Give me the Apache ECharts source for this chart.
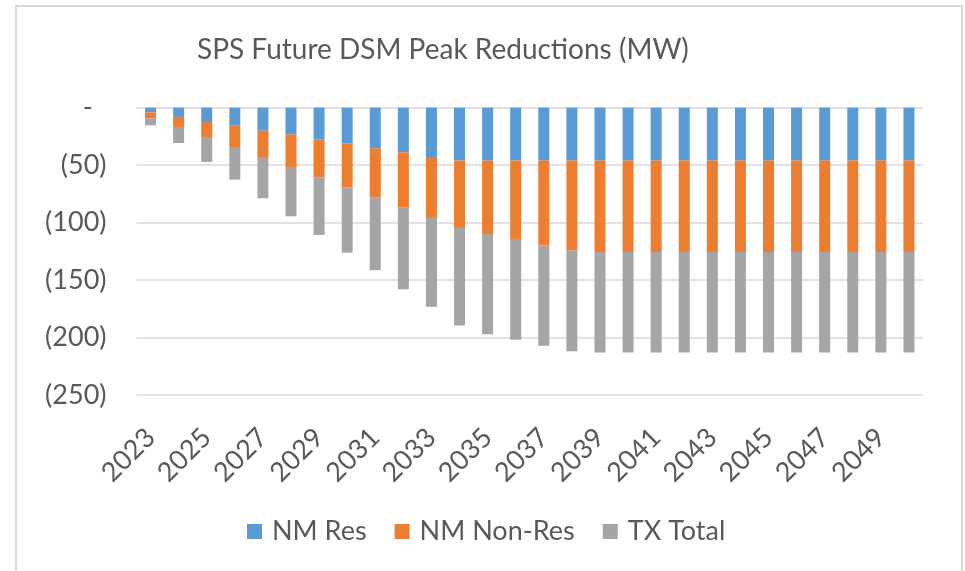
<!DOCTYPE html>
<html>
<head>
<meta charset="utf-8">
<script src="https://cdn.jsdelivr.net/npm/echarts@6/dist/echarts.min.js"></script>
<style>
html,body{margin:0;padding:0;background:#fff;}
#chart{width:965px;height:571px;}
</style>
</head>
<body>
<div id="chart"></div>
<script>
const years = ['2023','2024','2025','2026','2027','2028','2029','2030','2031','2032','2033','2034','2035','2036','2037','2038','2039','2040','2041','2042','2043','2044','2045','2046','2047','2048','2049','2050'];
const nmRes = [-4,-8,-12.5,-15.7,-20,-23.2,-27.5,-31,-35.4,-38.8,-42.9,-46,-46,-46,-46,-46,-46,-46,-46,-46,-46,-46,-46,-46,-46,-46,-46,-46];
const nmNonRes = [-5.3,-8.8,-13,-18.5,-22.9,-28.4,-33.1,-38.3,-42.9,-48.2,-53,-58.6,-63.9,-68.2,-74,-78.3,-79.5,-79.5,-79.5,-79.5,-79.5,-79.5,-79.5,-79.5,-79.5,-79.5,-79.5,-79.5];
const txTotal = [-6.1,-13.9,-21.7,-28.4,-35.9,-42.9,-50.1,-56.8,-63.1,-71,-77.4,-85,-87.2,-87.8,-87.2,-87.6,-87.5,-87.5,-87.5,-87.5,-87.5,-87.5,-87.5,-87.5,-87.5,-87.5,-87.5,-87.5];
const seriesNames = ['NM Res','NM Non-Res','TX Total'];
const colors = ['#5B9BD5','#ED7D31','#A5A5A5'];

const FONT = 'Lato';
const TXT = '#595959';
const chart = echarts.init(document.getElementById('chart'));
const mk = (name, data, color) => ({
  name, type:'bar', stack:'total', data, barWidth:11,
  itemStyle:{color}, emphasis:{disabled:true}
});
chart.setOption({
  animation:false,
  color:colors,
  title:{
    text:'SPS Future DSM Peak Reductions (MW)',
    left:192, top:31,
    textStyle:{fontFamily:FONT, fontSize:28, fontWeight:'normal', color:TXT}
  },
  graphic:[{
    type:'rect', shape:{x:16,y:6,width:946,height:580},
    style:{fill:null, stroke:'#d9d9d9', lineWidth:2}, silent:true, z:-1
  }],
  legend:{
    data:seriesNames, bottom:21, left:242,
    itemWidth:15, itemHeight:15, itemGap:28,
    icon:'rect',
    textStyle:{fontFamily:FONT, fontSize:27, color:TXT, padding:[0,0,0,5]}
  },
  grid:{left:136.5, right:42, top:107.7, bottom:176, containLabel:false},
  xAxis:{
    type:'category', data:years,
    axisLine:{show:false}, axisTick:{show:false},
    axisLabel:{interval:1, rotate:45, margin:38, fontFamily:FONT, fontSize:27, color:TXT}
  },
  yAxis:{
    type:'value', min:-250, max:0, interval:50,
    axisLine:{show:false}, axisTick:{show:false},
    splitLine:{lineStyle:{color:'#d9d9d9', width:1.5}},
    axisLabel:{margin:30, fontFamily:FONT, fontSize:27, color:TXT,
      formatter:v => v === 0 ? '-  ' : '(' + Math.abs(v) + ')'}
  },
  series:[mk(seriesNames[0], nmRes, colors[0]), mk(seriesNames[1], nmNonRes, colors[1]), mk(seriesNames[2], txTotal, colors[2])]
});
</script>
</body>
</html>
